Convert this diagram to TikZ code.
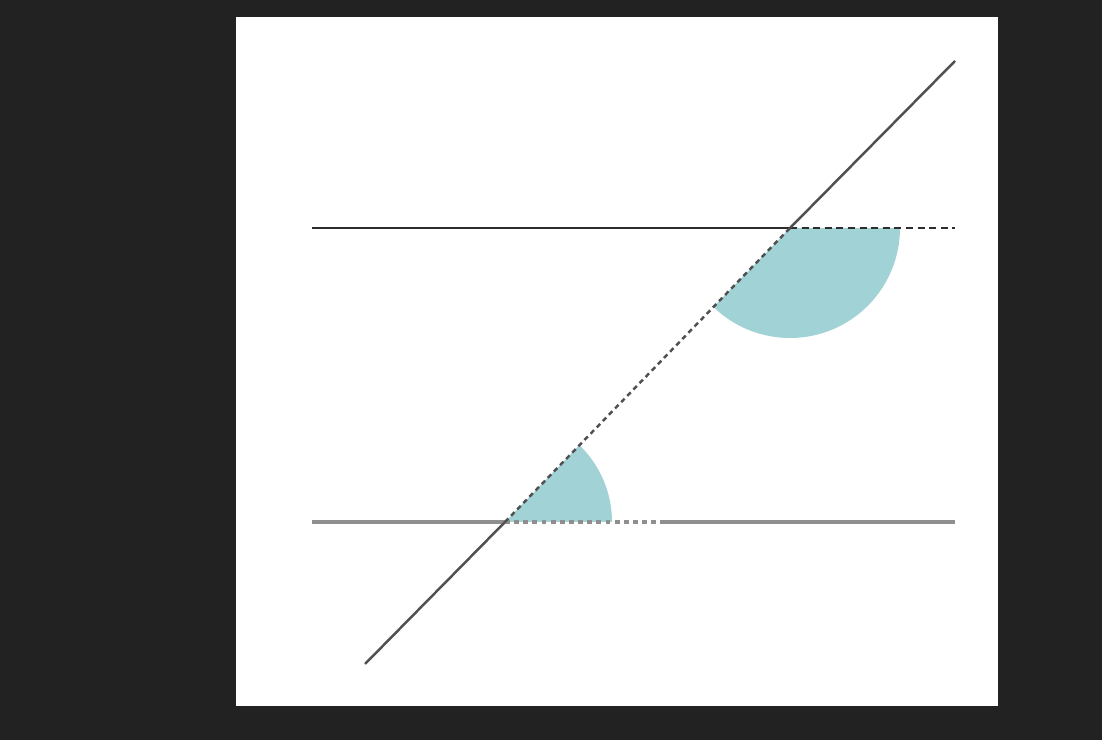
\documentclass[tikz,border=0pt]{standalone}
\definecolor{bgdark}{RGB}{34,34,34}
\definecolor{angteal}{RGB}{161,210,214}
\definecolor{linegray}{RGB}{143,143,143}
\definecolor{linedark}{RGB}{45,45,45}
\definecolor{cutdark}{RGB}{80,80,80}
\begin{document}
\begin{tikzpicture}[x=0.02cm,y=0.02cm,
	topline/.style={draw=linedark,line width=1.3pt},
	lowline/.style={draw=linegray,line width=2pt},
	cutline/.style={draw=cutdark,line width=1.4pt},
	topdash/.style={dash pattern=on 4pt off 2.6pt},
	lowdash/.style={dash pattern=on 2.8pt off 2.4pt},
	cutdash/.style={dash pattern=on 2.8pt off 2.2pt},
	angfill/.style={fill=angteal}]

		\fill[bgdark] (0,0) rectangle (1102,740);
		\fill[white] (236,34) rectangle (998,723);

		\coordinate (t_l) at (312,512);
		\coordinate (t_x) at (790,512);
		\coordinate (t_r) at (955,512);
		\coordinate (b_l) at (312,218);
		\coordinate (b_x) at (505,218);
		\coordinate (b_d) at (661,218);
		\coordinate (b_r) at (955,218);
		\coordinate (s_1) at (365,76);
		\coordinate (s_2) at (955,679);

		\path[angfill] (t_x) -- ++(225.9:110) arc[start angle=225.9, end angle=360, radius=110] -- cycle;
		\path[angfill] (b_x) -- ++(0:107) arc[start angle=0, end angle=45.9, radius=107] -- cycle;

		\draw[topline] (t_l) -- (t_x);
		\draw[topline,topdash] (t_x) -- (t_r);
		\draw[lowline] (b_l) -- (b_x);
		\draw[lowline,lowdash] (b_x) -- (b_d);
		\draw[lowline] (b_d) -- (b_r);
		\draw[cutline] (s_1) -- (b_x);
		\draw[cutline,cutdash] (b_x) -- (t_x);
		\draw[cutline] (t_x) -- (s_2);

	\end{tikzpicture}
\end{document}
